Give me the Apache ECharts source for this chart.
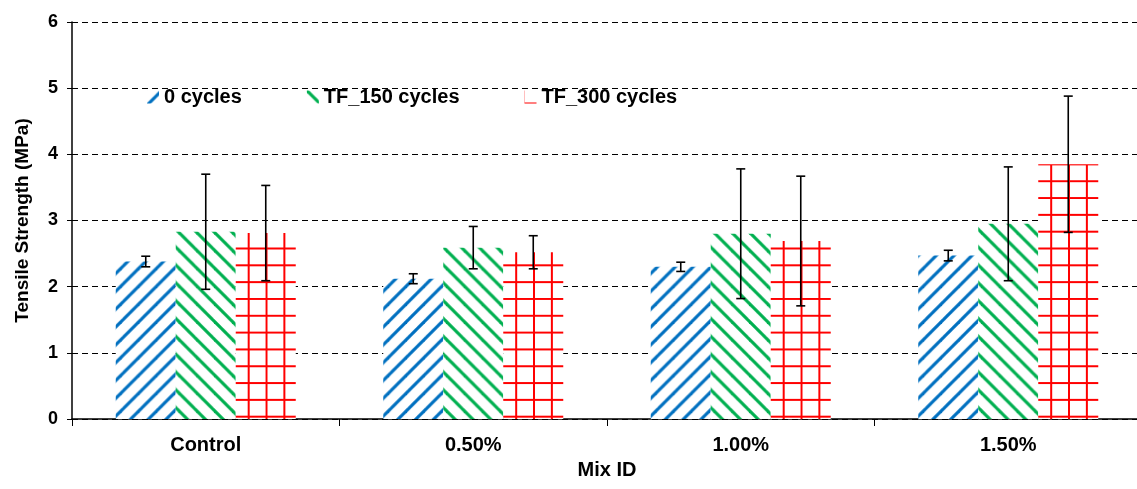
<!DOCTYPE html>
<html>
<head>
<meta charset="utf-8">
<script src="https://cdn.jsdelivr.net/npm/echarts@6/dist/echarts.min.js"></script>
<style>
  html, body { margin: 0; padding: 0; background: #fff; }
  #chart { width: 1137px; height: 489px; }
</style>
</head>
<body>
<div id="chart"></div>
<script>
const categories = ['Control', '0.50%', '1.00%', '1.50%'];
const seriesNames = ['0 cycles', 'TF_150 cycles', 'TF_300 cycles'];
const cycles0 = [2.38, 2.12, 2.30, 2.47];
const tf150 = [2.83, 2.59, 2.80, 2.95];
const tf300 = [2.81, 2.52, 2.69, 3.85];
const cycles0Err = [0.08, 0.075, 0.07, 0.08];
const tf150Err = [0.87, 0.32, 0.98, 0.86];
const tf300Err = [0.72, 0.25, 0.98, 1.03];
const yTicks = [0, 1, 2, 3, 4, 5, 6];

const font = 'Arial, "Liberation Sans", sans-serif';
const barW = 60;
// hatch period: 15 repeats per category band so every bar looks the same
const period = 267.5 / 15;

function makeTile(w, h, draw) {
  const c = document.createElement('canvas');
  c.width = w; c.height = h;
  const ctx = c.getContext('2d');
  ctx.fillStyle = '#fff';
  ctx.fillRect(0, 0, w, h);
  draw(ctx);
  return c;
}
function stripes(color, up) {
  return makeTile(18, 18, ctx => {
    ctx.strokeStyle = color;
    ctx.lineWidth = 3.2;
    const segs = up
      ? [[-2, 20, 20, -2], [-2, 2, 2, -2], [16, 20, 20, 16]]
      : [[-2, -2, 20, 20], [-2, 16, 2, 20], [16, -2, 20, 2]];
    segs.forEach(s => { ctx.beginPath(); ctx.moveTo(s[0], s[1]); ctx.lineTo(s[2], s[3]); ctx.stroke(); });
  });
}
const blueTile = stripes('#0070C0', true);
const greenTile = stripes('#00B050', false);
const redTile = makeTile(18, 17, ctx => {
  ctx.fillStyle = '#FF0000';
  ctx.fillRect(0, 0, 18, 2);
  ctx.fillRect(0, 0, 2, 17);
});

const s = period / 18;
const fills = [
  { image: blueTile, repeat: 'repeat', x: 14.7, y: 0, scaleX: s, scaleY: s },
  { image: greenTile, repeat: 'repeat', x: 0, y: 0, scaleX: s, scaleY: s },
  { image: redTile, repeat: 'repeat', x: -2, y: 12, scaleX: s, scaleY: 16.82 / 17 }
];

const values = [cycles0, tf150, tf300];
const errs = [cycles0Err, tf150Err, tf300Err];

const barSeries = values.map((vals, j) => ({
  name: seriesNames[j],
  type: 'bar',
  data: vals,
  barWidth: barW,
  barGap: '0%',
  itemStyle: { color: fills[j] },
  emphasis: { disabled: true }
}));

const errSeries = values.map((vals, j) => ({
  type: 'custom',
  z: 10,
  silent: true,
  data: vals.map((v, i) => [i, v - errs[j][i], v + errs[j][i]]),
  encode: { x: 0, y: [1, 2] },
  renderItem: (params, api) => {
    const i = api.value(0);
    const lo = api.coord([i, api.value(1)]);
    const hi = api.coord([i, api.value(2)]);
    const x = lo[0] + (j - 1) * barW;
    const cap = 4.5;
    const style = { stroke: '#000', lineWidth: 1.6 };
    return {
      type: 'group',
      children: [
        { type: 'line', shape: { x1: x, y1: lo[1], x2: x, y2: hi[1] }, style },
        { type: 'line', shape: { x1: x - cap, y1: lo[1], x2: x + cap, y2: lo[1] }, style },
        { type: 'line', shape: { x1: x - cap, y1: hi[1], x2: x + cap, y2: hi[1] }, style }
      ]
    };
  }
}));

const chart = echarts.init(document.getElementById('chart'));
chart.setOption({
  animation: false,
  backgroundColor: '#fff',
  textStyle: { fontFamily: font },
  grid: { left: 72, right: -5, top: 22, bottom: 70, outerBoundsMode: 'none', containLabel: false },
  legend: {
    data: seriesNames,
    left: 142,
    top: 82,
    itemWidth: 12,
    itemHeight: 13,
    itemGap: 65,
    icon: 'rect',
    textStyle: { fontSize: 20, fontWeight: 'bold', color: '#000', fontFamily: font }
  },
  xAxis: {
    type: 'category',
    data: categories,
    name: 'Mix ID',
    nameLocation: 'middle',
    nameGap: 41,
    nameTextStyle: { fontSize: 20, fontWeight: 'bold', color: '#000', fontFamily: font },
    axisLine: { lineStyle: { color: '#000', width: 1.5 } },
    axisTick: { show: true, length: 7, lineStyle: { color: '#000', width: 1 } },
    axisLabel: { margin: 16, fontSize: 20, fontWeight: 'bold', color: '#000', fontFamily: font }
  },
  yAxis: {
    type: 'value',
    min: yTicks[0],
    max: yTicks[yTicks.length - 1],
    interval: 1,
    name: 'Tensile Strength (MPa)',
    nameLocation: 'middle',
    nameGap: 40,
    nameTextStyle: { fontSize: 19, fontWeight: 'bold', color: '#000', fontFamily: font },
    axisLine: { show: true, lineStyle: { color: '#000', width: 1.5 } },
    axisTick: { show: true, length: 5, lineStyle: { color: '#000', width: 1 } },
    axisLabel: { margin: 14, fontSize: 18, fontWeight: 'bold', color: '#000', fontFamily: font },
    splitLine: { show: true, lineStyle: { color: '#000', width: 1, type: [6, 4] } }
  },
  series: [...barSeries, ...errSeries]
});
</script>
</body>
</html>
